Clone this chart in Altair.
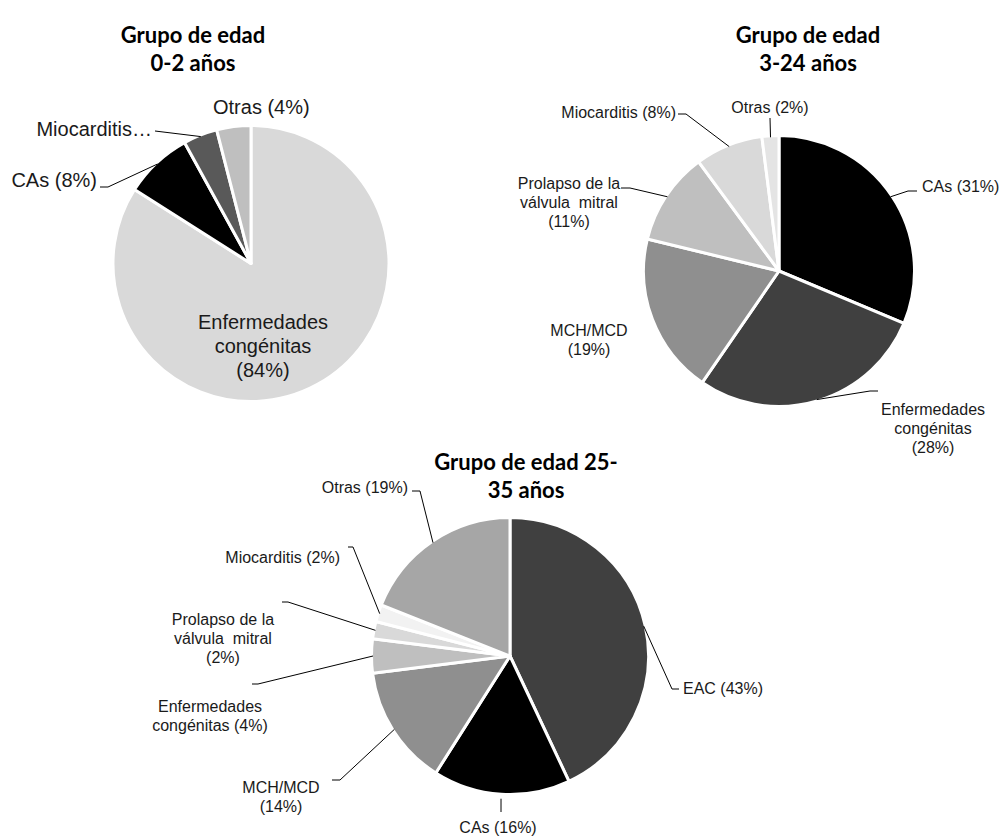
import math
import altair as alt
import pandas as pd

W, H = 1007, 837

# ---- Grupo de edad 0-2 años ----
p1_names = ["Enfermedades congénitas", "CAs", "Miocarditis", "Otras"]
p1_values = [84, 8, 4, 4]
p1_labels = ["Enfermedades\ncongénitas\n({v}%)", "CAs ({v}%)", "Miocarditis…", "Otras ({v}%)"]
p1_title = ["Grupo de edad", "0-2 años"]

# ---- Grupo de edad 3-24 años ----
p2_names = ["CAs", "Enfermedades congénitas", "MCH/MCD",
            "Prolapso de la válvula mitral", "Miocarditis", "Otras"]
p2_values = [31, 28, 19, 11, 8, 2]
p2_labels = ["CAs ({v}%)", "Enfermedades\ncongénitas\n({v}%)", "MCH/MCD\n({v}%)",
             "Prolapso de la\nválvula\u00a0 mitral\n({v}%)", "Miocarditis ({v}%)", "Otras ({v}%)"]
p2_title = ["Grupo de edad", "3-24 años"]

# ---- Grupo de edad 25-35 años ----
p3_names = ["EAC", "CAs", "MCH/MCD", "Enfermedades congénitas",
            "Prolapso de la válvula mitral", "Miocarditis", "Otras"]
p3_values = [43, 16, 14, 4, 2, 2, 19]
p3_labels = ["EAC ({v}%)", "CAs ({v}%)", "MCH/MCD\n({v}%)", "Enfermedades\ncongénitas ({v}%)",
             "Prolapso de la\nválvula\u00a0 mitral\n({v}%)", "Miocarditis ({v}%)", "Otras ({v}%)"]
p3_title = ["Grupo de edad 25-", "35 años"]

# ---- styling / layout ----
p1_colors = ["#d9d9d9", "#000000", "#595959", "#bfbfbf"]
p2_colors = ["#000000", "#404040", "#8f8f8f", "#bfbfbf", "#d9d9d9", "#e4e4e4"]
p3_colors = ["#404040", "#000000", "#8f8f8f", "#bfbfbf", "#d9d9d9", "#f2f2f2", "#a6a6a6"]

pies = [
    dict(names=p1_names, values=p1_values, labels=p1_labels, colors=p1_colors,
         title=p1_title, center=(251, 263.5), radius=136.5, title_pos=(193, 36),
         font=20, lh=24,
         label_pos=[(263, 323, "center"), (97, 181, "right"), (152, 130, "right"), (213, 108, "left")],
         leaders=[None, [(100, 187), (108, 187)], [(155, 131)], None],
         gaps=[0, 0, 0, 0]),
    dict(names=p2_names, values=p2_values, labels=p2_labels, colors=p2_colors,
         title=p2_title, center=(779, 271), radius=134, title_pos=(808, 36),
         font=16, lh=19,
         label_pos=[(922, 187, "left"), (933, 410, "center"), (589, 331, "center"),
                    (569, 184, "center"), (676, 113, "right"), (770, 108, "center")],
         leaders=[[(917, 191), (908, 191)], [(878, 391), (870, 391)], None,
                  [(621, 188), (630, 188)], [(678, 114), (686, 114)], [(770, 118)]],
         gaps=[0, 0, 0, 0, 0, 0]),
    dict(names=p3_names, values=p3_values, labels=p3_labels, colors=p3_colors,
         title=p3_title, center=(510, 656), radius=137, title_pos=(526, 463),
         font=16, lh=19,
         label_pos=[(683, 689, "left"), (498, 828, "center"), (281, 788, "center"),
                    (210, 707, "center"), (223, 620, "center"), (340, 558, "right"),
                    (408, 488, "right")],
         leaders=[[(679, 689), (672, 689)], [(501, 812)], [(332, 780), (340, 780)],
                  [(252, 684), (258, 684)], [(282, 602), (288, 602)],
                  [(348, 547), (353, 547)], [(412, 491), (420, 491)]],
         gaps=[0, 6, 0, 0, 0, 0, 0]),
]

xs = alt.Scale(domain=[0, W], range=[0, W], nice=False, zero=False)
ys = alt.Scale(domain=[0, H], range=[0, H], nice=False, zero=False)

layers = []
line_rows = []
text_groups = {}

for p_i, p in enumerate(pies):
    cx, cy = p["center"]
    r = p["radius"]
    df = pd.DataFrame({
        "idx": list(range(len(p["values"]))),
        "name": p["names"],
        "value": p["values"],
        "color": p["colors"],
    })
    arc = alt.Chart(df).mark_arc(
        outerRadius=r + 1.5, stroke="white", strokeWidth=3, strokeJoin="round"
    ).encode(
        theta=alt.Theta("value:Q", stack=True),
        order=alt.Order("idx:Q"),
        color=alt.Color("color:N", scale=None),
        x=alt.value(cx),
        y=alt.value(cy),
    )
    layers.append(arc)

    total = sum(p["values"])
    cum = 0
    for j, v in enumerate(p["values"]):
        # leader lines end on the slice rim at its mid-angle
        mid = (cum + v / 2) / total * 2 * math.pi
        cum += v
        rr = r + p["gaps"][j]
        ex = cx + rr * math.sin(mid)
        ey = cy - rr * math.cos(mid)
        lead = p["leaders"][j]
        if lead:
            pts = list(lead) + [(ex, ey)]
            for k, (px, py) in enumerate(pts):
                line_rows.append({"lid": f"{p_i}-{j}", "k": k, "x": px, "y": py})
        lx, ly, al = p["label_pos"][j]
        key = (p["font"], p["lh"], al)
        text_groups.setdefault(key, []).append(
            {"x": lx, "y": ly, "t": p["labels"][j].format(v=v)})

    tx, ty = p["title_pos"]
    key = ("title", 28, "center")
    text_groups.setdefault(key, []).append({"x": tx, "y": ty, "t": "\n".join(p["title"])})

lines = alt.Chart(pd.DataFrame(line_rows)).mark_line(
    color="black", strokeWidth=1
).encode(
    x=alt.X("x:Q", scale=xs, axis=None),
    y=alt.Y("y:Q", scale=ys, axis=None),
    detail="lid:N",
    order="k:Q",
)
layers.append(lines)

for (font, lh, al), rows in text_groups.items():
    if font == "title":
        mk = alt.Chart(pd.DataFrame(rows)).mark_text(
            font="Lato", fontWeight="bold", fontSize=22, lineHeight=lh,
            align=al, baseline="middle", lineBreak="\n", color="black")
    else:
        mk = alt.Chart(pd.DataFrame(rows)).mark_text(
            font="Liberation Sans", fontSize=font, lineHeight=lh,
            align=al, baseline="middle", lineBreak="\n", color="#1a1a1a")
    layers.append(mk.encode(
        x=alt.X("x:Q", scale=xs, axis=None),
        y=alt.Y("y:Q", scale=ys, axis=None),
        text="t:N",
    ))

chart = alt.layer(*layers).resolve_scale(
    theta="independent"
).properties(
    width=W, height=H, autosize="none", padding=0, background="white"
).configure_view(stroke=None)

chart.save("out.html", embed_options={"renderer": "svg", "actions": False})
